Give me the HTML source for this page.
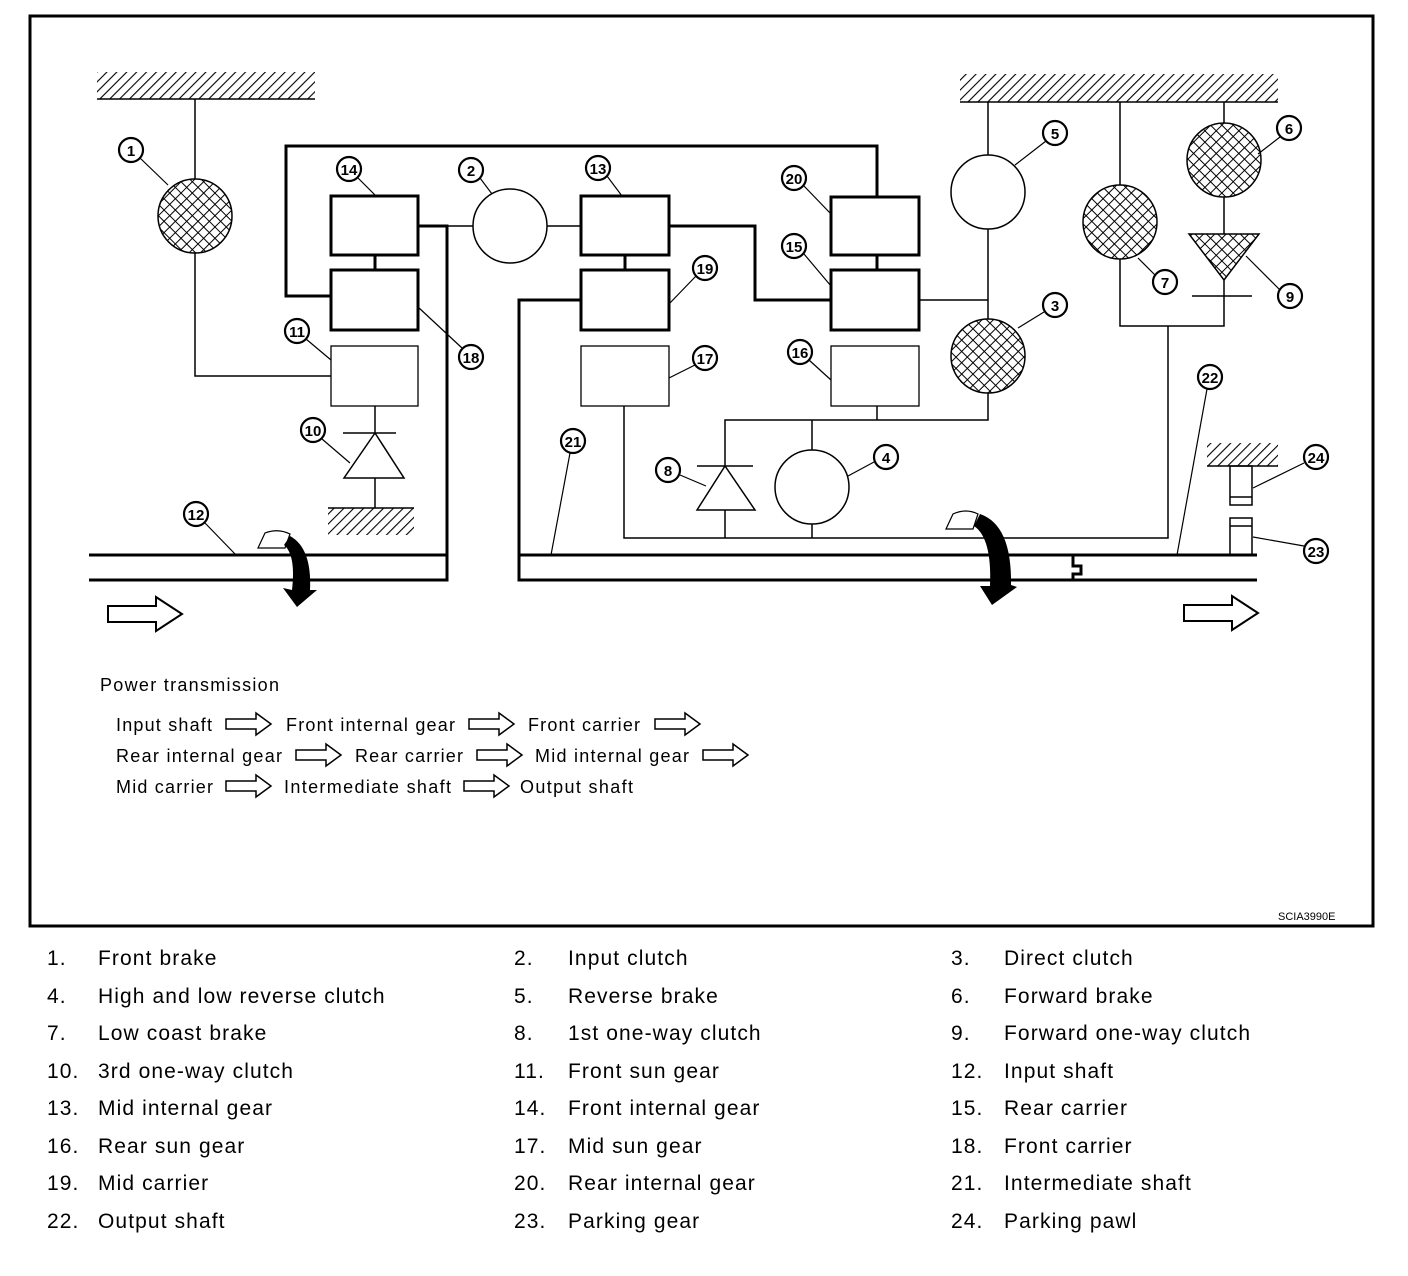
<!DOCTYPE html>
<html><head><meta charset="utf-8"><style>
html,body{margin:0;padding:0;background:#fff}
svg{display:block}
text{font-family:"Liberation Sans",sans-serif;fill:#000}
.n{font-weight:bold;font-size:15px;text-anchor:middle}
.t{font-size:18px}
.l text{font-size:21px;letter-spacing:1.1px}
</style></head><body>
<svg width="1408" height="1276" viewBox="0 0 1408 1276" xmlns="http://www.w3.org/2000/svg">
<defs>
<pattern id="h" width="7" height="7" patternUnits="userSpaceOnUse" patternTransform="rotate(45)">
<rect width="7" height="7" fill="#fff"/><line x1="0" y1="0" x2="0" y2="7" stroke="#000" stroke-width="2.2"/></pattern>
<pattern id="x" width="8" height="8" patternUnits="userSpaceOnUse" patternTransform="rotate(45)">
<rect width="8" height="8" fill="#fff"/><line x1="0" y1="0" x2="0" y2="8" stroke="#000" stroke-width="2"/><line x1="0" y1="0" x2="8" y2="0" stroke="#000" stroke-width="2"/></pattern>
<g id="oa"><polygon points="0,-5 30,-5 30,-11 45,0 30,11 30,5 0,5" fill="#fff" stroke="#000" stroke-width="1.5"/></g>
<g id="ba"><polygon points="0,-8 48,-8 48,-17 74,0 48,17 48,8 0,8" fill="#fff" stroke="#000" stroke-width="2"/></g>
</defs>
<rect x="30" y="16" width="1343" height="910" fill="none" stroke="#000" stroke-width="3"/>

<rect x="97" y="72" width="218" height="27" fill="url(#h)"/><line x1="97" y1="99" x2="315" y2="99" stroke="#000" stroke-width="1.5"/>
<rect x="960" y="74" width="318" height="28" fill="url(#h)"/><line x1="960" y1="102" x2="1278" y2="102" stroke="#000" stroke-width="1.5"/>
<rect x="328" y="508" width="86" height="27" fill="url(#h)"/><line x1="328" y1="508" x2="414" y2="508" stroke="#000" stroke-width="1.5"/>
<rect x="1207" y="443" width="71" height="23" fill="url(#h)"/><line x1="1207" y1="466" x2="1278" y2="466" stroke="#000" stroke-width="1.5"/>

<g fill="none" stroke="#000" stroke-width="1.5">
<polyline points="195,99 195,179"/>
<polyline points="195,253 195,376 331,376"/>
<polyline points="375,406 375,508"/>
<line x1="343" y1="433" x2="396" y2="433"/>
<polyline points="447,226 473,226"/>
<polyline points="547,226 581,226"/>
<polyline points="919,300 988,300"/>
<polyline points="988,102 988,155"/>
<polyline points="988,229 988,319"/>
<polyline points="988,393 988,420 725,420 725,538"/>
<polyline points="877,406 877,420"/>
<polyline points="812,420 812,450"/>
<polyline points="812,524 812,538"/>
<polyline points="624,406 624,538 1168,538 1168,326"/>
<line x1="697" y1="466" x2="753" y2="466"/>
<polyline points="1120,102 1120,185"/>
<polyline points="1120,259 1120,326 1224,326 1224,280"/>
<polyline points="1224,102 1224,123"/>
<polyline points="1224,197 1224,234"/>
<line x1="1192" y1="296" x2="1252" y2="296"/>
<rect x="1230" y="466" width="22" height="39"/><line x1="1230" y1="497" x2="1252" y2="497"/>
<rect x="1230" y="518" width="22" height="37"/><line x1="1230" y1="526" x2="1252" y2="526"/>
<rect x="331" y="346" width="87" height="60" stroke-width="1.3"/>
<rect x="581" y="346" width="88" height="60" stroke-width="1.3"/>
<rect x="831" y="346" width="88" height="60" stroke-width="1.3"/>
<polygon points="375,433 344,478 404,478" fill="#fff"/>
<polygon points="725,466 697,510 755,510" fill="#fff"/>
<circle cx="510" cy="226" r="37" fill="#fff"/>
<circle cx="988" cy="192" r="37" fill="#fff"/>
<circle cx="812" cy="487" r="37" fill="#fff"/>
</g>
<g stroke="#000" stroke-width="1.5">
<circle cx="195" cy="216" r="37" fill="url(#x)"/>
<circle cx="988" cy="356" r="37" fill="url(#x)"/>
<circle cx="1120" cy="222" r="37" fill="url(#x)"/>
<circle cx="1224" cy="160" r="37" fill="url(#x)"/>
<polygon points="1189,234 1259,234 1224,280" fill="url(#x)"/>
</g>

<g fill="none" stroke="#000" stroke-width="3">
<polyline points="331,296 286,296 286,146 877,146 877,197"/>
<polyline points="418,226 447,226 447,580 89,580"/>
<line x1="89" y1="555" x2="447" y2="555"/>
<polyline points="581,300 519,300 519,580 1073,580"/>
<line x1="519" y1="555" x2="1257" y2="555"/>
<polyline points="1073,580 1073,574 1081,574 1081,566 1073,566 1073,555"/>
<line x1="1073" y1="580" x2="1257" y2="580"/>
<polyline points="669,226 755,226 755,300 831,300"/>
<line x1="375" y1="255" x2="375" y2="270"/>
<line x1="625" y1="255" x2="625" y2="270"/>
<line x1="877" y1="255" x2="877" y2="270"/>
<rect x="331" y="196" width="87" height="59" fill="#fff"/>
<rect x="331" y="270" width="87" height="60" fill="#fff"/>
<rect x="581" y="196" width="88" height="59" fill="#fff"/>
<rect x="581" y="270" width="88" height="60" fill="#fff"/>
<rect x="831" y="197" width="88" height="58" fill="#fff"/>
<rect x="831" y="270" width="88" height="60" fill="#fff"/>
</g>

<g>
<path d="M258,548 L265,533 Q278,528 290,534 L285,548 Z" fill="#fff" stroke="#000" stroke-width="1.2"/>
<path d="M290,536 Q312,548 310,590 L317,590 L297,607 L283,588 L292,590 Q296,555 284,545 Z" fill="#000"/>
<path d="M946,529 L953,514 Q966,508 978,514 L973,529 Z" fill="#fff" stroke="#000" stroke-width="1.2"/>
<path d="M980,514 Q1012,525 1011,585 L1017,587 L992,605 L980,586 L990,586 Q992,538 974,526 Z" fill="#000"/>
</g>
<use href="#ba" x="108" y="614"/>
<use href="#ba" x="1184" y="613"/>

<g stroke="#000" stroke-width="1.2">
<line x1="140" y1="158" x2="168" y2="185"/>
<line x1="358" y1="178" x2="375" y2="195"/>
<line x1="480" y1="178" x2="492" y2="194"/>
<line x1="607" y1="176" x2="622" y2="196"/>
<line x1="804" y1="186" x2="831" y2="214"/>
<line x1="804" y1="254" x2="831" y2="286"/>
<line x1="696" y1="276" x2="669" y2="304"/>
<line x1="462" y1="348" x2="418" y2="307"/>
<line x1="306" y1="339" x2="331" y2="360"/>
<line x1="695" y1="365" x2="669" y2="378"/>
<line x1="809" y1="360" x2="831" y2="380"/>
<line x1="322" y1="439" x2="350" y2="463"/>
<line x1="680" y1="475" x2="706" y2="486"/>
<line x1="874" y1="462" x2="848" y2="476"/>
<line x1="1046" y1="141" x2="1015" y2="165"/>
<line x1="1044" y1="312" x2="1018" y2="328"/>
<line x1="1280" y1="137" x2="1258" y2="154"/>
<line x1="1155" y1="275" x2="1138" y2="258"/>
<line x1="1280" y1="290" x2="1246" y2="256"/>
<line x1="1207" y1="389" x2="1177" y2="555"/>
<line x1="570" y1="453" x2="551" y2="555"/>
<line x1="205" y1="523" x2="236" y2="555"/>
<line x1="1304" y1="463" x2="1253" y2="488"/>
<line x1="1304" y1="546" x2="1253" y2="537"/>
</g>
<g fill="#fff" stroke="#000" stroke-width="2.2">
<circle cx="131" cy="150" r="12"/><circle cx="349" cy="169" r="12"/><circle cx="471" cy="170" r="12"/>
<circle cx="598" cy="168" r="12"/><circle cx="794" cy="178" r="12"/><circle cx="794" cy="246" r="12"/>
<circle cx="705" cy="268" r="12"/><circle cx="471" cy="357" r="12"/><circle cx="297" cy="331" r="12"/>
<circle cx="705" cy="358" r="12"/><circle cx="800" cy="352" r="12"/><circle cx="313" cy="430" r="12"/>
<circle cx="668" cy="470" r="12"/><circle cx="886" cy="457" r="12"/><circle cx="1055" cy="133" r="12"/>
<circle cx="1055" cy="305" r="12"/><circle cx="1289" cy="128" r="12"/><circle cx="1165" cy="282" r="12"/>
<circle cx="1290" cy="296" r="12"/><circle cx="1210" cy="377" r="12"/><circle cx="573" cy="441" r="12"/>
<circle cx="196" cy="514" r="12"/><circle cx="1316" cy="457" r="12"/><circle cx="1316" cy="551" r="12"/>
</g>
<g class="n">
<text x="131" y="156" class="n">1</text><text x="349" y="175" class="n">14</text><text x="471" y="176" class="n">2</text>
<text x="598" y="174" class="n">13</text><text x="794" y="184" class="n">20</text><text x="794" y="252" class="n">15</text>
<text x="705" y="274" class="n">19</text><text x="471" y="363" class="n">18</text><text x="297" y="337" class="n">11</text>
<text x="705" y="364" class="n">17</text><text x="800" y="358" class="n">16</text><text x="313" y="436" class="n">10</text>
<text x="668" y="476" class="n">8</text><text x="886" y="463" class="n">4</text><text x="1055" y="139" class="n">5</text>
<text x="1055" y="311" class="n">3</text><text x="1289" y="134" class="n">6</text><text x="1165" y="288" class="n">7</text>
<text x="1290" y="302" class="n">9</text><text x="1210" y="383" class="n">22</text><text x="573" y="447" class="n">21</text>
<text x="196" y="520" class="n">12</text><text x="1316" y="463" class="n">24</text><text x="1316" y="557" class="n">23</text>
</g>

<text x="100" y="691" class="t" textLength="179">Power transmission</text>
<text x="116" y="731" class="t" textLength="96">Input shaft</text>
<use href="#oa" x="226" y="724"/>
<text x="286" y="731" class="t" textLength="169">Front internal gear</text>
<use href="#oa" x="469" y="724"/>
<text x="528" y="731" class="t" textLength="112">Front carrier</text>
<use href="#oa" x="655" y="724"/>
<text x="116" y="762" class="t" textLength="166">Rear internal gear</text>
<use href="#oa" x="296" y="755"/>
<text x="355" y="762" class="t" textLength="108">Rear carrier</text>
<use href="#oa" x="477" y="755"/>
<text x="535" y="762" class="t" textLength="154">Mid internal gear</text>
<use href="#oa" x="703" y="755"/>
<text x="116" y="793" class="t" textLength="97">Mid carrier</text>
<use href="#oa" x="226" y="786"/>
<text x="284" y="793" class="t" textLength="167">Intermediate shaft</text>
<use href="#oa" x="464" y="786"/>
<text x="520" y="793" class="t" textLength="113">Output shaft</text>
<text x="1278" y="920" font-size="11">SCIA3990E</text>

<g class="l">
<text x="47" y="965">1.</text><text x="98" y="965">Front brake</text>
<text x="514" y="965">2.</text><text x="568" y="965">Input clutch</text>
<text x="951" y="965">3.</text><text x="1004" y="965">Direct clutch</text>
<text x="47" y="1003">4.</text><text x="98" y="1003">High and low reverse clutch</text>
<text x="514" y="1003">5.</text><text x="568" y="1003">Reverse brake</text>
<text x="951" y="1003">6.</text><text x="1004" y="1003">Forward brake</text>
<text x="47" y="1040">7.</text><text x="98" y="1040">Low coast brake</text>
<text x="514" y="1040">8.</text><text x="568" y="1040">1st one-way clutch</text>
<text x="951" y="1040">9.</text><text x="1004" y="1040">Forward one-way clutch</text>
<text x="47" y="1078">10.</text><text x="98" y="1078">3rd one-way clutch</text>
<text x="514" y="1078">11.</text><text x="568" y="1078">Front sun gear</text>
<text x="951" y="1078">12.</text><text x="1004" y="1078">Input shaft</text>
<text x="47" y="1115">13.</text><text x="98" y="1115">Mid internal gear</text>
<text x="514" y="1115">14.</text><text x="568" y="1115">Front internal gear</text>
<text x="951" y="1115">15.</text><text x="1004" y="1115">Rear carrier</text>
<text x="47" y="1153">16.</text><text x="98" y="1153">Rear sun gear</text>
<text x="514" y="1153">17.</text><text x="568" y="1153">Mid sun gear</text>
<text x="951" y="1153">18.</text><text x="1004" y="1153">Front carrier</text>
<text x="47" y="1190">19.</text><text x="98" y="1190">Mid carrier</text>
<text x="514" y="1190">20.</text><text x="568" y="1190">Rear internal gear</text>
<text x="951" y="1190">21.</text><text x="1004" y="1190">Intermediate shaft</text>
<text x="47" y="1228">22.</text><text x="98" y="1228">Output shaft</text>
<text x="514" y="1228">23.</text><text x="568" y="1228">Parking gear</text>
<text x="951" y="1228">24.</text><text x="1004" y="1228">Parking pawl</text>
</g>
</svg>
</body></html>
